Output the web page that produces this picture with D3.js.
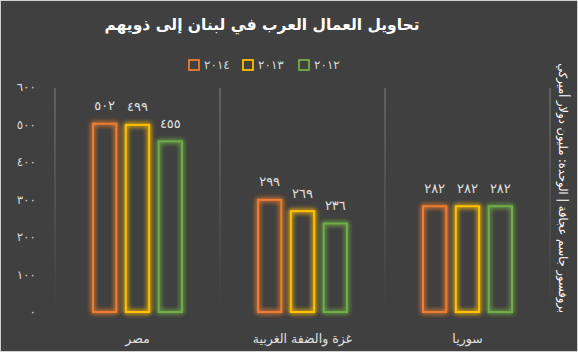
<!DOCTYPE html>
<html>
<head>
<meta charset="utf-8">
<script src="https://cdn.jsdelivr.net/npm/d3@7"></script>
<style>
  body { margin: 0; background: #404040; }
  text { font-family: "DejaVu Sans", sans-serif; }
</style>
</head>
<body>
<div id="chart"></div>
<script>
// data
const categories = ['مصر', 'غزة والضفة الغربية', 'سوريا'];
const years = ['2014', '2013', '2012'];
const values2014 = [502, 299, 282];
const values2013 = [499, 269, 282];
const values2012 = [455, 236, 282];
const yTicks = [0, 100, 200, 300, 400, 500, 600];
const title = 'تحاويل العمال العرب في لبنان إلى ذويهم';
const sideTitle = 'بروفسور جاسم عجاقة | الوحدة: مليون دولار أميركي';

const colors = { '2014': '#ed7d31', '2013': '#ffc000', '2012': '#70ad47' };
const series = { '2014': values2014, '2013': values2013, '2012': values2012 };

// arabic-indic digits
const arDigits = '٠١٢٣٤٥٦٧٨٩';
const toAr = n => String(n).replace(/[0-9]/g, c => arDigits[+c]);

const width = 578;
const height = 352;

const svg = d3.select('#chart')
  .append('svg')
  .attr('width', width)
  .attr('height', height);

// glow filter for bars
const defs = svg.append('defs');
const glow = defs.append('filter')
  .attr('id', 'glow')
  .attr('x', '-30%').attr('y', '-30%')
  .attr('width', '160%').attr('height', '160%');
glow.append('feGaussianBlur')
  .attr('in', 'SourceGraphic')
  .attr('stdDeviation', 2.5)
  .attr('result', 'blur');
const merge = glow.append('feMerge');
merge.append('feMergeNode').attr('in', 'blur');
merge.append('feMergeNode').attr('in', 'blur');
merge.append('feMergeNode').attr('in', 'SourceGraphic');

// gradient for the separator lines (fade towards the bottom)
const grad = defs.append('linearGradient')
  .attr('id', 'fade')
  .attr('x1', 0).attr('y1', 0).attr('x2', 0).attr('y2', 1);
grad.append('stop').attr('offset', '0%').attr('stop-color', '#6a6a6a');
grad.append('stop').attr('offset', '100%').attr('stop-color', '#404040');

// background + border
svg.append('rect')
  .attr('x', 0.5).attr('y', 0.5)
  .attr('width', width - 1).attr('height', height - 1)
  .attr('fill', '#404040')
  .attr('stroke', '#d0d0d0');

// scales
const x = d3.scaleBand()
  .domain(categories)
  .range([55, 550]);

const xInner = d3.scaleBand()
  .domain(years)
  .range([37, 128])
  .paddingInner(0.23);

const y = d3.scaleLinear()
  .domain([0, 600])
  .range([312, 87]);

// separator lines between categories
const seps = [55].concat(categories.map(c => x(c) + x.bandwidth()));
svg.append('g')
  .selectAll('rect')
  .data(seps)
  .enter()
  .append('rect')
  .attr('x', d => d - 0.75)
  .attr('y', 88)
  .attr('width', 1.5)
  .attr('height', 224)
  .attr('fill', 'url(#fade)');

// y axis
const axisY = d3.axisLeft(y)
  .tickValues(yTicks)
  .tickSize(0)
  .tickPadding(0)
  .tickFormat(toAr);
const gY = svg.append('g')
  .attr('transform', 'translate(36, 0)')
  .call(axisY);
gY.select('.domain').remove();
gY.selectAll('text')
  .attr('fill', '#d9d9d9')
  .attr('font-size', 12);

// x category labels
svg.append('g')
  .selectAll('text')
  .data(categories)
  .enter()
  .append('text')
  .attr('x', d => x(d) + x.bandwidth() / 2)
  .attr('y', 338)
  .attr('text-anchor', 'middle')
  .attr('dominant-baseline', 'central')
  .attr('fill', '#e0e0e0')
  .attr('font-size', 12.5)
  .text(d => d);

// bars
const bars = [];
categories.forEach((c, i) => {
  years.forEach(yr => {
    bars.push({ cat: c, year: yr, value: series[yr][i] });
  });
});

const groupBars = svg.append('g');
groupBars.selectAll('.bar')
  .data(bars)
  .enter()
  .append('rect')
  .attr('class', 'bar')
  .attr('x', d => x(d.cat) + xInner(d.year) + 1)
  .attr('y', d => y(d.value))
  .attr('width', xInner.bandwidth() - 2)
  .attr('height', d => y(0) - y(d.value))
  .attr('fill', 'none')
  .attr('stroke', d => colors[d.year])
  .attr('stroke-width', 2)
  .attr('filter', 'url(#glow)');

groupBars.selectAll('.label')
  .data(bars)
  .enter()
  .append('text')
  .attr('class', 'label')
  .attr('x', d => x(d.cat) + xInner(d.year) + xInner.bandwidth() / 2)
  .attr('y', d => y(d.value) - 18)
  .attr('text-anchor', 'middle')
  .attr('dominant-baseline', 'central')
  .attr('fill', '#e0e0e0')
  .attr('font-size', 13)
  .text(d => toAr(d.value));

// title
svg.append('text')
  .attr('x', 262)
  .attr('y', 25)
  .attr('text-anchor', 'middle')
  .attr('dominant-baseline', 'central')
  .attr('fill', '#ffffff')
  .attr('font-size', 15.5)
  .attr('font-weight', 'bold')
  .text(title);

// legend
const legendX = { '2014': 188, '2013': 242, '2012': 298 };
const legend = svg.append('g');
const items = legend.selectAll('g')
  .data(years)
  .enter()
  .append('g')
  .attr('transform', d => `translate(${legendX[d]}, 65)`);
items.append('rect')
  .attr('x', 1).attr('y', -5)
  .attr('width', 10).attr('height', 10)
  .attr('fill', 'none')
  .attr('stroke', d => colors[d])
  .attr('stroke-width', 1.8);
items.append('text')
  .attr('x', 16)
  .attr('y', 0)
  .attr('dominant-baseline', 'central')
  .attr('fill', '#d9d9d9')
  .attr('font-size', 12)
  .text(d => toAr(d));

// side title
svg.append('text')
  .attr('transform', 'translate(563, 188) rotate(90)')
  .attr('text-anchor', 'middle')
  .attr('dominant-baseline', 'central')
  .attr('fill', '#ffffff')
  .attr('font-size', 11.5)
  .text(sideTitle);
</script>
</body>
</html>
